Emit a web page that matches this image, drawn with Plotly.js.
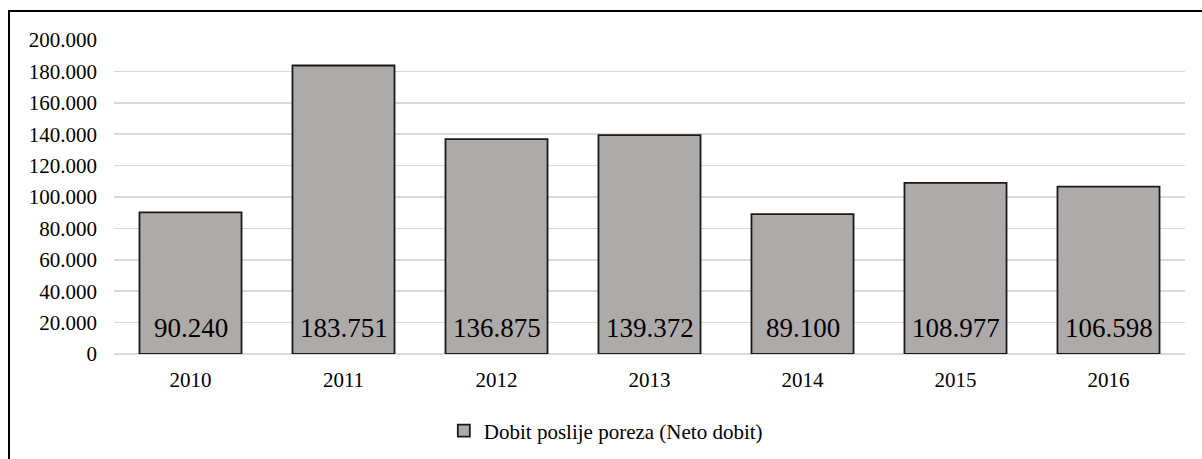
<!DOCTYPE html>
<html>
<head>
<meta charset="utf-8">
<script src="https://cdn.plot.ly/plotly-3.0.1.min.js"></script>
<style>
html,body{margin:0;padding:0;background:#fff;overflow:hidden;}
#frame{position:absolute;left:8px;top:10px;width:1400px;height:700px;border:2px solid #000;box-sizing:border-box;}
#chart{position:absolute;left:0;top:0;width:1202px;height:459px;}
</style>
</head>
<body>
<div id="frame"></div>
<div id="chart"></div>
<script>
const years = ['2010','2011','2012','2013','2014','2015','2016'];
const values = [90240, 183751, 136875, 139372, 89100, 108977, 106598];
const valueLabels = ['90.240','183.751','136.875','139.372','89.100','108.977','106.598'];
const seriesName = 'Dobit poslije poreza (Neto dobit)';

const fontFam = 'Liberation Serif';

const trace = {
  type: 'bar',
  x: years,
  y: values,
  name: seriesName,
  marker: {color: '#AEAAAA', line: {color: '#1A1A1A', width: 1.8}},
  hoverinfo: 'skip'
};

const annotations = years.map((yr, i) => ({
  x: i, y: 0, xref: 'x', yref: 'y',
  text: valueLabels[i], showarrow: false,
  yanchor: 'middle', yshift: 26,
  font: {family: fontFam, size: 27, color: '#000'}
}));

const layout = {
  width: 1202, height: 459,
  margin: {l: 114, r: 17, t: 40, b: 105},
  paper_bgcolor: 'rgba(0,0,0,0)',
  plot_bgcolor: 'rgba(0,0,0,0)',
  separators: ',.',
  bargap: 0.333,
  font: {family: fontFam, size: 21, color: '#000'},
  showlegend: true,
  legend: {
    orientation: 'h',
    xref: 'container', yref: 'container',
    x: 0.504, xanchor: 'center', y: 0.061, yanchor: 'middle',
    font: {family: fontFam, size: 21, color: '#000'},
    itemwidth: 30
  },
  xaxis: {
    type: 'category', automargin: false,
    showgrid: false, showline: false, zeroline: false,
    ticks: '', ticklabelstandoff: 11,
    tickfont: {family: fontFam, size: 21, color: '#000'}
  },
  yaxis: {
    range: [0, 200000], dtick: 20000, tickformat: ',.0f', automargin: false,
    showgrid: true, gridcolor: '#D9D9D9', gridwidth: 1.5,
    zeroline: true, zerolinecolor: '#D9D9D9', zerolinewidth: 1.5,
    showline: false, ticks: '', ticklabelstandoff: 16,
    tickfont: {family: fontFam, size: 21, color: '#000'}
  },
  annotations: annotations
};

Plotly.newPlot('chart', [trace], layout, {staticPlot: true, displayModeBar: false});
</script>
</body>
</html>
